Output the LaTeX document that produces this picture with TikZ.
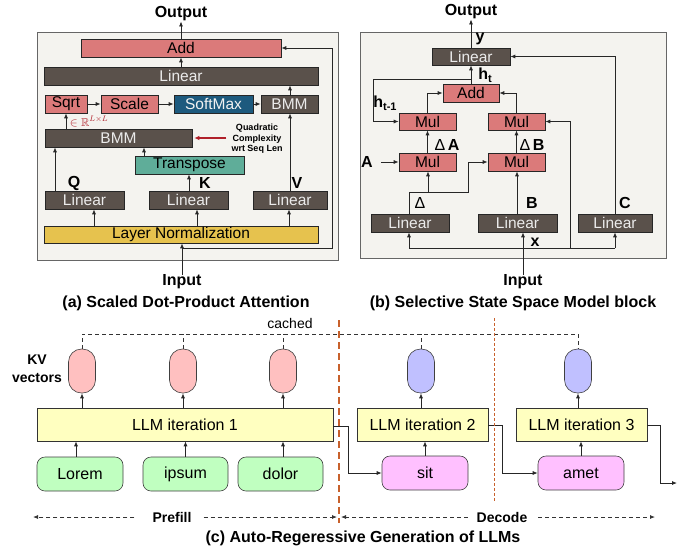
\documentclass[tikz,border=0pt]{standalone}
\usepackage{fontspec}
\usepackage{amssymb}
\setmainfont{Liberation Sans}
\usetikzlibrary{arrows.meta}

\definecolor{addred}{HTML}{DB7A7A}
\definecolor{linbrown}{HTML}{5A514B}
\definecolor{softblue}{HTML}{1D5A7E}
\definecolor{transgreen}{HTML}{5FAD99}
\definecolor{lngold}{HTML}{E6C24E}
\definecolor{panelbg}{HTML}{F4F3EF}
\definecolor{kvpink}{HTML}{FFC0C0}
\definecolor{kvblue}{HTML}{C0C0FF}
\definecolor{llmyellow}{HTML}{FFFFC0}
\definecolor{tokgreen}{HTML}{C0FFC0}
\definecolor{tokpink}{HTML}{FFC0FF}
\definecolor{splitorange}{HTML}{C8612C}
\definecolor{quadred}{HTML}{B0202A}

\tikzset{
  panelbox/.style={draw=black!60, line width=0.9pt, fill=panelbg, inner sep=0pt},
  box/.style={draw=black!85, line width=0.6pt, minimum height=18pt, inner sep=0pt,
              font=\fontsize{15.5}{16}\selectfont},
  redbox/.style={box, fill=addred},
  darkbox/.style={box, fill=linbrown, text=white!92!black},
  conn/.style={line width=0.8pt, draw=black!85},
  arr/.style={conn, -{Latex[length=5pt,width=4pt]}},
  lbl/.style={font=\bfseries\fontsize{16}{16}\selectfont, inner sep=0pt},
  caption/.style={font=\bfseries\fontsize{16}{16}\selectfont, inner sep=0pt},
  capsule/.style={draw=black!75, line width=0.6pt, rounded corners=13pt,
                  minimum width=27pt, minimum height=44pt, inner sep=0pt},
  llmbox/.style={draw=black!80, line width=0.6pt, fill=llmyellow, minimum height=33pt, minimum width=131pt,
                 inner sep=0pt, font=\fontsize{16}{16}\selectfont},
  token/.style={draw=black!75, line width=0.6pt, rounded corners=8pt, minimum height=34pt, minimum width=86pt,
                inner sep=0pt, font=\fontsize{16}{16}\selectfont},
  cachedline/.style={line width=0.8pt, draw=black!80, dash pattern=on 4pt off 3pt},
  phasearr/.style={line width=0.8pt, draw=black!80, dash pattern=on 4pt off 3pt, -{Latex[length=5pt,width=4pt]}},
}
\newcommand{\dlt}{{\mdseries Δ}}

\begin{document}
\begin{tikzpicture}[x=1pt,y=-1pt]
\useasboundingbox[fill=white] (0,0) rectangle (692,550);

% ---------------- (a) scaled dot-product attention ----------------
\node[panelbox, minimum width=301pt, minimum height=228pt] (pa) at (187.5,146) {};
\node[redbox, minimum width=200pt] (adda) at (181,48) {Add};
\node[darkbox, minimum width=274pt] (lina) at (181,76) {Linear};
\node[redbox, minimum width=42pt] (sqrt) at (66,104) {Sqrt};
\node[redbox, minimum width=57pt] (scale) at (129.5,104) {Scale};
\node[box, fill=softblue, text=white!95!black, minimum width=79pt] (soft) at (213.5,104) {SoftMax};
\node[darkbox, minimum width=57pt] (bmmr) at (289.5,104) {BMM};
\node[darkbox, minimum width=147pt] (bmm) at (118.5,138) {BMM};
\node[box, fill=transgreen, minimum width=109pt] (trans) at (189.5,165) {Transpose};
\node[darkbox, minimum width=79pt] (linq) at (84.5,200) {Linear};
\node[darkbox, minimum width=79pt] (link) at (188.5,200) {Linear};
\node[darkbox, minimum width=74pt] (linv) at (290,200) {Linear};
\node[box, fill=lngold, minimum width=274pt, minimum height=17pt] (ln) at (181,234.5) {Layer Normalization};

\node[lbl] (qlab) at (74,183) {Q};
\node[lbl] (klab) at (205,183) {K};
\node[lbl] (vlab) at (297,183) {V};
\node[inner sep=0pt, text=quadred, font=\fontsize{11.5}{11.5}\selectfont] (rlab) at (89,121.5) {$\in\mathbb{R}^{L\times L}$};
\node[inner sep=0pt, align=center, font=\bfseries\fontsize{9}{10.5}\selectfont] (quad) at (257,139) {Quadratic\\Complexity\\wrt Seq Len};

\node[lbl] (outa) at (181,14) {Output};
\node[lbl] (ina) at (182,282) {Input};
\node[caption] (capa) at (186,303) {(a) Scaled Dot-Product Attention};

\coordinate (xq) at (55,0);
\coordinate (xk) at (189,0);
\coordinate (xt) at (144,0);
\coordinate (xv) at (290,0);
\coordinate (xs) at (66,0);
\coordinate (xl1) at (94,0);
\coordinate (xl2) at (197,0);
\coordinate (xl3) at (289,0);
\coordinate (fa) at (182,248);

\draw[arr] (ina.north) -- (ina.north |- ln.south);
\draw[arr] (fa) -| ([xshift=51pt]adda.east) -- (adda.east);
\draw[arr] (ln.north -| xl1) -- (linq.south -| xl1);
\draw[arr] (ln.north -| xl2) -- (link.south -| xl2);
\draw[arr] (ln.north -| xl3) -- (linv.south -| xl3);
\draw[arr] (linq.north -| xq) -- (bmm.south -| xq);
\draw[arr] (link.north -| xk) -- (trans.south -| xk);
\draw[arr] (trans.north -| xt) -- (bmm.south -| xt);
\draw[arr] (linv.north -| xv) -- (bmmr.south -| xv);
\draw[arr] (bmm.north -| xs) -- (sqrt.south -| xs);
\draw[arr] (sqrt) -- (scale);
\draw[arr] (scale) -- (soft);
\draw[arr] (soft) -- (bmmr);
\draw[arr] (bmmr.north -| xv) -- (lina.south -| xv);
\draw[arr] (lina.north -| adda) -- (adda.south);
\draw[arr] (adda.north) -- (outa.south);
\draw[line width=1.2pt, draw=quadred, -{Latex[length=5pt,width=4.5pt]}]
  ([xshift=-5pt]quad.west |- bmm.east) -- ([xshift=2pt]bmm.east);

% ---------------- (b) selective state space model block ----------------
\node[panelbox, minimum width=306pt, minimum height=226pt] (pb) at (513,145) {};
\node[darkbox, minimum width=78pt, minimum height=17pt] (liny) at (471,56.5) {Linear};
\node[redbox, minimum width=56pt] (addb) at (471,93) {Add};
\node[redbox, minimum width=57pt, minimum height=17pt] (mula) at (427.5,121.5) {Mul};
\node[redbox, minimum width=57pt, minimum height=17pt] (mulb) at (516.5,121.5) {Mul};
\node[redbox, minimum width=57pt] (mulc) at (427.5,162) {Mul};
\node[redbox, minimum width=57pt] (muld) at (516.5,162) {Mul};
\node[darkbox, minimum width=78pt] (lindelta) at (410,223) {Linear};
\node[darkbox, minimum width=79pt] (linb) at (517.5,223) {Linear};
\node[darkbox, minimum width=74pt] (linc) at (615,223) {Linear};

\node[lbl] (outb) at (471,12) {Output};
\node[lbl] (ylab) at (480,39) {y};
\node[lbl] (htlab) at (485,75) {h\raisebox{-0.35ex}{\fontsize{11}{11}\selectfont t}};
\node[lbl] (htm) at (385,103) {h\raisebox{-0.35ex}{\fontsize{11}{11}\selectfont t-1}};
\node[lbl] (dalab) at (447,145) {\dlt\,A};
\node[lbl] (dblab) at (532,145) {\dlt\,B};
\node[lbl] (alab) at (367,162) {A};
\node[lbl] (dlab) at (420,203) {\dlt};
\node[lbl] (blab) at (532,203) {B};
\node[lbl] (clab) at (625,203) {C};
\node[lbl] (xlab) at (535,242) {x};
\node[lbl] (inb) at (523,282) {Input};
\node[caption] (capb) at (513,303) {(b) Selective State Space Model block};

\coordinate (busl) at (409,248);
\coordinate (busr) at (615,248);
\coordinate (busm) at (570,248);
\coordinate (dsplit) at (409,192);
\coordinate (dmid) at (428,192);
\coordinate (hfb) at (471,79);
\coordinate (xbout) at (517,0);

\draw[arr] (inb.north) -- (inb.north |- linb.south);
\draw[conn] (busl) -- (busr);
\draw[arr] (busl) -- (busl |- lindelta.south);
\draw[arr] (busr) -- (busr |- linc.south);
\draw[arr] (busm) |- (mulb.east);
\draw[arr] (linc.north -| busr) |- (liny.east);
\draw[conn] (lindelta.north -| dsplit) -- (dsplit) -- (dmid);
\draw[arr] (dmid) -- (dmid |- mulc.south);
\draw[arr] (dmid) -- ++(40,0) |- (muld.west);
\draw[arr] ([xshift=8pt]alab.east) -- (mulc.west);
\draw[arr] (linb.north -| xbout) -- (muld.south -| xbout);
\draw[arr] (mulc.north) -- (mula.south);
\draw[arr] (muld.north) -- (mulb.south);
\draw[arr] (mula.north) |- (addb.west);
\draw[arr] (mulb.north) |- (addb.east);
\draw[arr] (addb.north) -- (liny.south);
\draw[arr] (hfb) -- ++(-98,0) |- (mula.west);
\draw[arr] (liny.north) -- (outb.south);

% ---------------- (c) auto-regressive generation ----------------
\node[llmbox, minimum width=296pt] (llm1) at (185,424.5) {LLM iteration 1};
\node[llmbox] (llm2) at (422.5,424.5) {LLM iteration 2};
\node[llmbox] (llm3) at (581.5,424.5) {LLM iteration 3};

\node[token, fill=tokgreen] (lorem) at (80,474) {Lorem};
\node[token, fill=tokgreen, minimum width=85pt] (ipsum) at (185.5,474) {ipsum};
\node[token, fill=tokgreen, minimum width=85pt] (dolor) at (280.5,474) {dolor};
\node[token, fill=tokpink] (sit) at (425,473) {sit};
\node[token, fill=tokpink] (amet) at (581,473) {amet};

\node[capsule, fill=kvpink] (kv1) at (82,371) {};
\node[capsule, fill=kvpink] (kv2) at (183,371) {};
\node[capsule, fill=kvpink] (kv3) at (283,371) {};
\node[capsule, fill=kvblue] (kv4) at (421,371) {};
\node[capsule, fill=kvblue] (kv5) at (578,371) {};

\node[inner sep=0pt, align=center, font=\bfseries\fontsize{14}{18}\selectfont] (kvlab) at (37,369) {KV\\vectors};
\node[inner sep=0pt, font=\fontsize{14}{14}\selectfont] (cached) at (290,323) {cached};

% cache line linking all KV vectors
\coordinate (cacheh) at (0,334);
\draw[cachedline] (kv1.north) -- (kv1.north |- cacheh) -| (kv5.north);
\draw[cachedline] (kv2.north) -- (kv2.north |- cacheh);
\draw[cachedline] (kv3.north) -- (kv3.north |- cacheh);
\draw[cachedline] (kv4.north) -- (kv4.north |- cacheh);

\coordinate (xlorem) at (76,0);
\draw[arr] (lorem.north -| xlorem) -- (llm1.south -| xlorem);
\draw[arr] (ipsum.north) -- (ipsum.north |- llm1.south);
\draw[arr] (dolor.north -| kv3) -- (llm1.south -| kv3);
\draw[arr] (sit.north) -- (sit.north |- llm2.south);
\draw[arr] (amet.north) -- (amet.north |- llm3.south);
\draw[arr] (llm1.north -| kv1) -- (kv1.south);
\draw[arr] (llm1.north -| kv2) -- (kv2.south);
\draw[arr] (llm1.north -| kv3) -- (kv3.south);
\draw[arr] (llm2.north -| kv4) -- (kv4.south);
\draw[arr] (llm3.north -| kv5) -- (kv5.south);

\draw[arr] ([yshift=-1.5pt]llm1.east) -- ++(15,0) |- (sit.west);
\draw[arr] ([yshift=-0.5pt]llm2.east) -- ++(14,0) |- (amet.west);
\coordinate (nextout) at (677,483);
\draw[arr] ([yshift=-0.5pt]llm3.east) -- ++(13,0) |- (nextout);

% prefill / decode split
\draw[splitorange, line width=1.3pt, dash pattern=on 7pt off 4pt] (339,320) -- (339,523);
\draw[splitorange, line width=0.7pt, dash pattern=on 3pt off 2pt] (494,318) -- (494,502);

\node[inner sep=0pt, font=\bfseries\fontsize{14}{14}\selectfont] (prefill) at (172,517) {Prefill};
\node[inner sep=0pt, font=\bfseries\fontsize{14}{14}\selectfont] (decode) at (502,517) {Decode};
\draw[phasearr] ([xshift=-18pt]prefill.west) -- (33,517);
\draw[phasearr] ([xshift=12pt]prefill.east) -- (337,517);
\draw[phasearr] ([xshift=-9pt]decode.west) -- (341,517);
\draw[phasearr] ([xshift=11pt]decode.east) -- (655,517);

\node[caption] (capc) at (363,538) {(c) Auto-Regeressive Generation of LLMs};
\end{tikzpicture}
\end{document}
